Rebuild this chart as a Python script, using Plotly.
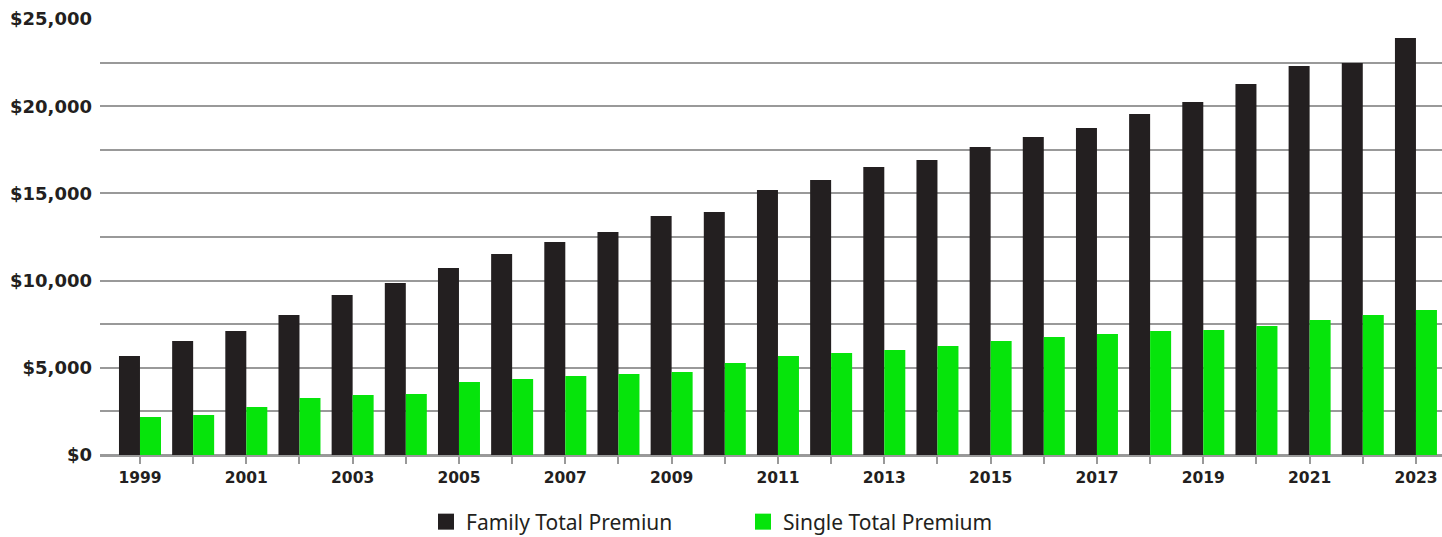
import plotly.graph_objects as go

years = list(range(1999, 2024))
family = [5677, 6537, 7110, 8028, 9174, 9862, 10722, 11525, 12213, 12787, 13704, 13933,
          15195, 15768, 16514, 16915, 17661, 18234, 18750, 19553, 20241, 21273, 22305, 22477, 23911]
single = [2179, 2294, 2752, 3268, 3440, 3498, 4186, 4358, 4530, 4644, 4759, 5275,
          5677, 5849, 6021, 6250, 6537, 6766, 6938, 7110, 7167, 7397, 7741, 8028, 8314]
y_ticks = [0, 5000, 10000, 15000, 20000, 25000]
y_labels = ["$0", "$5,000", "$10,000", "$15,000", "$20,000", "$25,000"]
x_ticks = list(range(1999, 2024, 2))
series_names = ["Family Total Premiun", "Single Total Premium"]
colors = ["#231f20", "#06e40b"]

fig = go.Figure()
for name, vals, col in zip(series_names, [family, single], colors):
    fig.add_trace(go.Bar(x=years, y=vals, name=name, legendgroup=name, showlegend=False,
                         marker=dict(color=col, line=dict(width=0))))
for name, col in zip(series_names, colors):
    fig.add_trace(go.Scatter(x=[None], y=[None], mode="markers", name=name, legendgroup=name,
                             marker=dict(symbol="square", size=17, color=col)))

fig.update_layout(
    width=1442, height=537,
    margin=dict(l=100, r=0, t=19, b=82, autoexpand=False),
    paper_bgcolor="white", plot_bgcolor="white",
    barmode="group", bargap=0.21, bargroupgap=0,
    showlegend=True,
    legend=dict(orientation="h", x=(426 - 100) / 1342, xanchor="left", y=(455 - 522) / 436, yanchor="middle",
                font=dict(family="Noto Sans", size=21, color="#231f20"),
                tracegroupgap=0, entrywidth=272, bgcolor="rgba(0,0,0,0)"),
    xaxis=dict(
        range=[1998.248, 2023.49],
        tickmode="array", tickvals=x_ticks, ticktext=[str(v) for v in x_ticks],
        ticks="outside", ticklen=8, tickwidth=2, tickcolor="#999999",
        minor=dict(dtick=1, tick0=1999, ticks="outside", ticklen=8, tickwidth=2, tickcolor="#999999", showgrid=False),
        showgrid=False, showline=False, zeroline=False,
        tickfont=dict(family="DejaVu Sans", size=15.5, color="#231f20", weight="bold"),
    ),
    yaxis=dict(
        range=[0, 25000],
        tickmode="array", tickvals=y_ticks, ticktext=y_labels,
        showgrid=True, gridcolor="#999999", gridwidth=1.5,
        minor=dict(dtick=2500, showgrid=True, gridcolor="#999999", gridwidth=1.5),
        zeroline=True, zerolinecolor="#999999", zerolinewidth=2.5,
        ticks="", ticklabelstandoff=7,
        tickfont=dict(family="DejaVu Sans", size=18, color="#231f20", weight="bold"),
    ),
)

fig.write_html("out.html")
